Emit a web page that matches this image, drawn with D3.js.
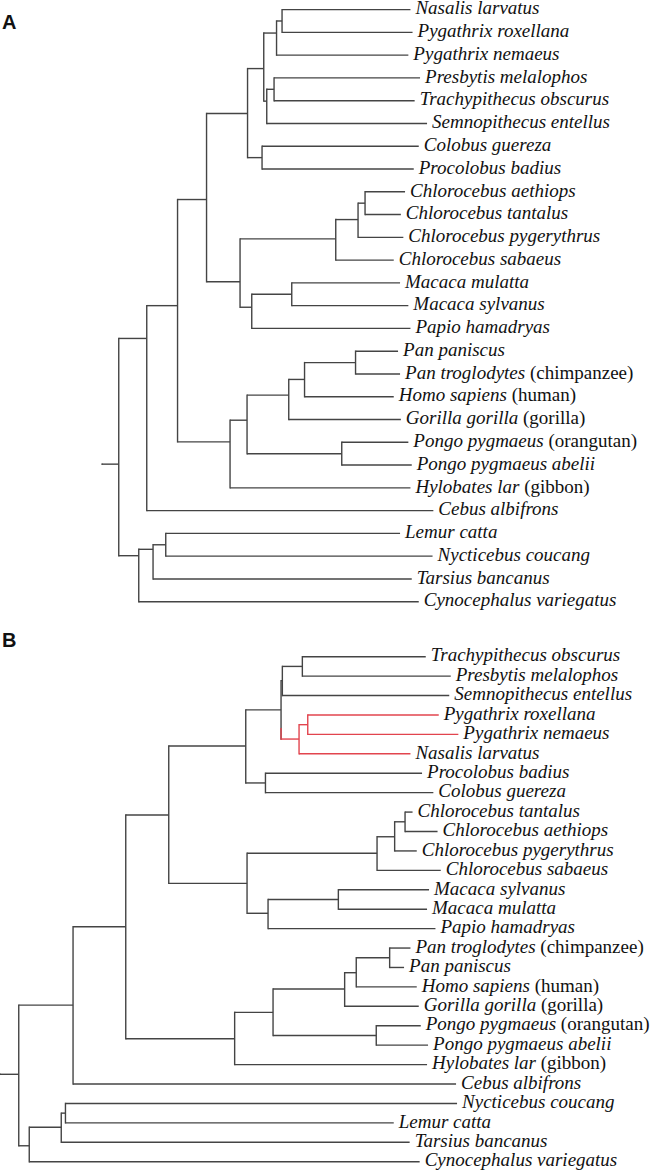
<!DOCTYPE html>
<html><head><meta charset="utf-8">
<script src="https://cdn.jsdelivr.net/npm/d3@7"></script>
<style>html,body{margin:0;padding:0;background:#fff;}svg{display:block;}</style>
</head><body>
<script>
// ---------- Panel A data ----------
const taxaA = ["Nasalis larvatus","Pygathrix roxellana","Pygathrix nemaeus","Presbytis melalophos","Trachypithecus obscurus","Semnopithecus entellus","Colobus guereza","Procolobus badius","Chlorocebus aethiops","Chlorocebus tantalus","Chlorocebus pygerythrus","Chlorocebus sabaeus","Macaca mulatta","Macaca sylvanus","Papio hamadryas","Pan paniscus","Pan troglodytes","Homo sapiens","Gorilla gorilla","Pongo pygmaeus","Pongo pygmaeus abelii","Hylobates lar","Cebus albifrons","Lemur catta","Nycticebus coucang","Tarsius bancanus","Cynocephalus variegatus"];
const commonA = ["","","","","","","","","","","","","","","","","chimpanzee","human","gorilla","orangutan","","gibbon","","","","",""];
const leafParentA = ["C3a","C3a","C3","C4a","C4a","C4","C5","C5","Chl3","Chl3","Chl2","Chl1","M1","M1","MP1","Pan","Pan","HP","AF","PG","PG","H1","N1","S3","S3","S2","S1"];
const leafDepthA = [291.7,293.8,289.6,301.3,295.9,308.3,300,295,286.3,282.1,284.6,275,281.3,289.6,291.7,279.3,281.3,275,282.1,289.6,293,291.7,314.6,281.3,313.8,293,300];
const nodesA = ["stem","R","N1","N2","N3","C1","C2","C3","C3a","C4","C4a","C5","K1","Chl1","Chl2","Chl3","MP1","M1","H1","GA","AF","HP","Pan","PG","S1","S2","S3"];
const nodeParentA = [null,"stem","R","N1","N2","N3","C1","C2","C3","C2","C4","C1","N3","K1","Chl1","Chl2","K1","MP1","N2","H1","GA","AF","HP","GA","R","S1","S2"];
const nodeDepthA = [-16.8,0,28,58.8,87.8,128.8,145,157.8,163.3,148,155.3,143.3,121.3,217,239.3,246.3,133,173,111.3,128.3,170,185.8,236.8,223,20,34.3,47];
const nodeRowA = [19.96,19.96,14.44,13.0,8.34,4.56,2.59,1.03,0.5,4.02,3.5,6.5,11.95,10.07,9.22,8.5,13.07,12.5,18.98,18.03,16.93,16.24,15.5,19.5,23.98,23.7,23.5];

// ---------- Panel B data ----------
const taxaB = ["Trachypithecus obscurus","Presbytis melalophos","Semnopithecus entellus","Pygathrix roxellana","Pygathrix nemaeus","Nasalis larvatus","Procolobus badius","Colobus guereza","Chlorocebus tantalus","Chlorocebus aethiops","Chlorocebus pygerythrus","Chlorocebus sabaeus","Macaca sylvanus","Macaca mulatta","Papio hamadryas","Pan troglodytes","Pan paniscus","Homo sapiens","Gorilla gorilla","Pongo pygmaeus","Pongo pygmaeus abelii","Hylobates lar","Cebus albifrons","Nycticebus coucang","Lemur catta","Tarsius bancanus","Cynocephalus variegatus"];
const commonB = ["","","","","","","","","","","","","","","","chimpanzee","","human","gorilla","orangutan","","gibbon","","","","",""];
const leafParentB = ["TP","TP","X","R2","R2","R1","C5","C5","Chl3","Chl3","Chl2","Chl1","M1","M1","MP","Pan","Pan","HP","AF","PG","PG","H1","N1","S3","S3","S2","S1"];
const leafDepthB = [407,432,430.5,420,439.6,391.7,403.3,414.6,393.8,418.8,398,422,410.3,408.3,416.7,391.7,385.3,398,400,402,409.3,408.3,437.3,438.3,375,390.9,400.9];
const nodesB = ["stem","R","N1","N2","OWM","C1","C2","X","TP","R1","R2","C5","K1","Chl1","Chl2","Chl3","MP","M1","H1","GA","AF","HP","Pan","PG","S1","S2","S3"];
const nodeParentB = [null,"stem","R","N1","N2","OWM","C1","C2","X","C2","R1","C1","OWM","K1","Chl1","Chl2","K1","MP","N2","H1","GA","AF","HP","GA","R","S1","S2"];
const nodeDepthB = [-18.8,0,54.3,107,150,227,262.3,263.6,283.6,280.3,289,246.7,228.3,358.3,375.9,386.3,249.3,319.6,215.9,254.3,325.9,337.5,370.9,357.5,10.5,42.5,46.7];
const nodeRowB = [21.5,21.5,17.94,13.9,8.15,4.6,2.74,1.23,0.5,4.24,3.5,6.5,11.67,10.12,9.27,8.5,13.21,12.5,19.67,18.31,17.11,16.27,15.5,19.5,25.18,24.23,23.5];
const highlightB = ["R1","R2","Pygathrix roxellana","Pygathrix nemaeus","Nasalis larvatus"];

// ---------- styles ----------
const W = 650, H = 1171;
const lineColor = "#444", redColor = "#e2444e";
const fontSize = 19, labelGap = 5, strokeW = 1.4;

const svg = d3.select("body").append("svg").attr("width", W).attr("height", H)
  .style("background", "#fff");

function drawTree(cfg) {
  const g = svg.append("g");
  const x = d3.scaleLinear().domain(cfg.xDomain).range(cfg.xRange);
  const y = d3.scaleLinear().domain([0, 26]).range(cfg.yRange);
  const hl = new Set(cfg.highlight || []);
  const nodes = new Map();
  cfg.nodes.forEach((id, i) => nodes.set(id, {id, parent: cfg.nodeParent[i], depth: cfg.nodeDepth[i], row: cfg.nodeRow[i], leaf: false, children: []}));
  cfg.taxa.forEach((name, i) => nodes.set(name, {id: name, parent: cfg.leafParent[i], depth: cfg.leafDepth[i], row: i, leaf: true, common: cfg.common[i], children: []}));
  nodes.forEach(n => { if (n.parent) nodes.get(n.parent).children.push(n); });

  // verticals
  nodes.forEach(n => {
    if (!n.children.length) return;
    const rows = n.children.map(c => c.row).concat([n.row]);
    const allRed = hl.has(n.id);
    g.append("line")
      .attr("x1", x(n.depth)).attr("x2", x(n.depth))
      .attr("y1", y(d3.min(rows)) - strokeW / 2).attr("y2", y(d3.max(rows)) + strokeW / 2)
      .attr("stroke", allRed ? redColor : lineColor).attr("stroke-width", strokeW);
    n.children.forEach(c => {
      if (hl.has(c.id) && !allRed) {
        const y0 = y(c.row) - 0.38 * (y(c.row) - y(n.row));
        g.append("line")
          .attr("x1", x(n.depth)).attr("x2", x(n.depth))
          .attr("y1", y0).attr("y2", y(c.row) + strokeW / 2)
          .attr("stroke", redColor).attr("stroke-width", strokeW);
      }
    });
  });
  // horizontals
  nodes.forEach(n => {
    if (!n.parent) return;
    const p = nodes.get(n.parent);
    g.append("line")
      .attr("x1", x(p.depth)).attr("x2", x(n.depth))
      .attr("y1", y(n.row)).attr("y2", y(n.row))
      .attr("stroke", hl.has(n.id) ? redColor : lineColor).attr("stroke-width", strokeW);
  });
  // labels
  nodes.forEach(n => {
    if (!n.leaf) return;
    const t = g.append("text")
      .attr("x", x(n.depth) + labelGap).attr("y", y(n.row)).attr("dy", "0.25em")
      .attr("font-family", "'Liberation Serif','Times New Roman',serif")
      .attr("font-size", fontSize).attr("fill", "#111");
    t.append("tspan").attr("font-style", "italic").text(n.id);
    if (n.common) t.append("tspan").text(" (" + n.common + ")");
  });
  svg.append("text").attr("x", 2).attr("y", cfg.letterY)
    .attr("font-family", "'Liberation Sans',Arial,sans-serif").attr("font-weight", "bold")
    .attr("font-size", 20).attr("fill", "#111").text(cfg.letter);
}

drawTree({
  taxa: taxaA, common: commonA, leafParent: leafParentA, leafDepth: leafDepthA,
  nodes: nodesA, nodeParent: nodeParentA, nodeDepth: nodeDepthA, nodeRow: nodeRowA,
  xDomain: [0, 320], xRange: [118.75, 438.75], yRange: [9.6, 601.7],
  letter: "A", letterY: 29
});
drawTree({
  taxa: taxaB, common: commonB, leafParent: leafParentB, leafDepth: leafDepthB,
  nodes: nodesB, nodeParent: nodeParentB, nodeDepth: nodeDepthB, nodeRow: nodeRowB,
  highlight: highlightB,
  xDomain: [0, 440], xRange: [18.75, 458.75], yRange: [656.7, 1161.7],
  letter: "B", letterY: 647
});
</script>
</body></html>
